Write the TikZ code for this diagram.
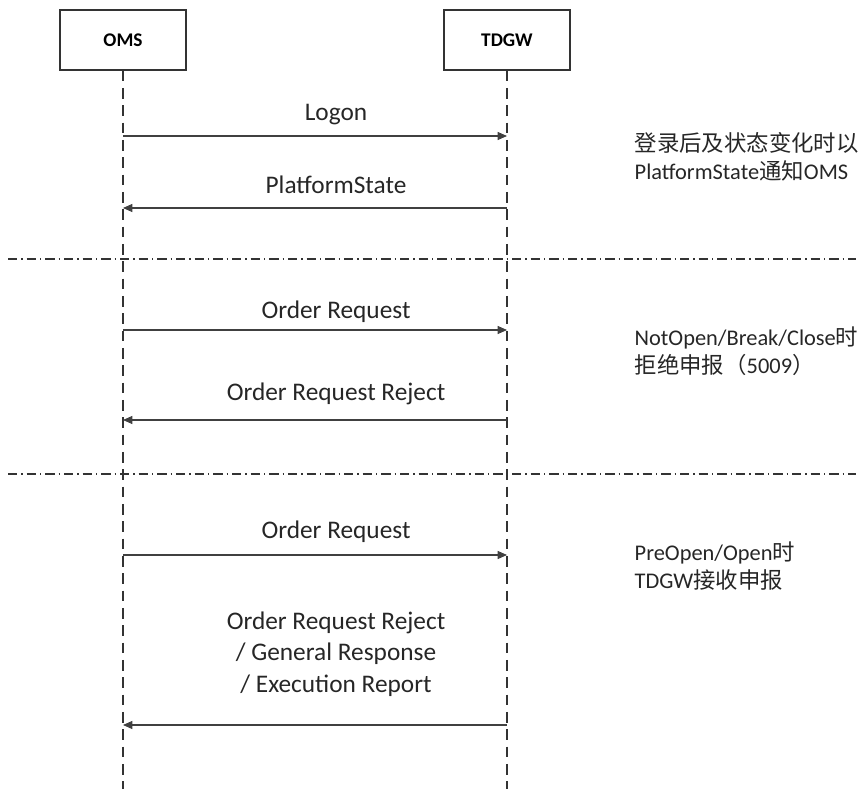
\documentclass[tikz,border=0pt]{standalone}
\usepackage{fontspec}
\setmainfont{Carlito}
\newfontfamily\cjk{Noto Sans CJK SC}
\usetikzlibrary{arrows.meta}

\begin{document}
\begin{tikzpicture}[x=0.75pt,y=-0.75pt,
  actor/.style={draw=black!80,line width=0.8pt,minimum width=94.5pt,minimum height=45pt,
    font=\fontsize{14.5}{16}\selectfont\bfseries},
  lifeline/.style={draw=black!80,line width=0.8pt,dash pattern=on 8pt off 5pt},
  sep/.style={draw=black!80,line width=0.8pt,dash pattern=on 7pt off 3pt on 1pt off 3pt},
  msg/.style={draw=black!75,line width=0.8pt,-{Triangle[length=7pt,width=6pt]}},
  label/.style={font=\fontsize{19}{23.5}\selectfont,align=center,text=black!85},
  note/.style={font=\fontsize{16.8}{21}\selectfont,align=left,anchor=west,text=black!85}]
  \useasboundingbox (0,0) rectangle (861,789);

  % participants
  \node[actor] (oms) at (123,40) {OMS};
  \node[actor] (tdgw) at (507,40) {TDGW};
  \coordinate (omsend) at (123,789);
  \coordinate (tdgwend) at (507,789);
  \draw[lifeline] (oms.south) -- (omsend);
  \draw[lifeline] (tdgw.south) -- (tdgwend);

  % phase separators
  \coordinate (s1a) at (8,259);
  \coordinate (s1b) at (856,259);
  \coordinate (s2a) at (8,474);
  \coordinate (s2b) at (856,474);
  \draw[sep] (s1a) -- (s1b);
  \draw[sep] (s2a) -- (s2b);

  % logon
  \coordinate (m1a) at (123,136);
  \coordinate (m1b) at (507,136);
  \draw[msg] (m1a) -- (m1b);
  \node[label] (logon) at (336,115) {Logon};
  \coordinate (m2a) at (507,208);
  \coordinate (m2b) at (123,208);
  \draw[msg] (m2a) -- (m2b);
  \node[label] (state) at (336,185) {PlatformState};
  \node[note] (n1) at (630,157) {{\cjk 登录后及状态变化时以}\\PlatformState{\cjk 通知}OMS};

  % closed phase
  \coordinate (m3a) at (123,330);
  \coordinate (m3b) at (507,330);
  \draw[msg] (m3a) -- (m3b);
  \node[label] (req1) at (336,312) {Order Request};
  \coordinate (m4a) at (507,420);
  \coordinate (m4b) at (123,420);
  \draw[msg] (m4a) -- (m4b);
  \node[label] (rej1) at (336,394) {Order Request Reject};
  \node[note] (n2) at (630,351) {NotOpen/Break/Close{\cjk 时}\\{\cjk 拒绝申报（}5009{\cjk ）}};

  % open phase
  \coordinate (m5a) at (123,555);
  \coordinate (m5b) at (507,555);
  \draw[msg] (m5a) -- (m5b);
  \node[label] (req2) at (336,532) {Order Request};
  \coordinate (m6a) at (507,725);
  \coordinate (m6b) at (123,725);
  \draw[msg] (m6a) -- (m6b);
  \node[label] (resp) at (336,654) {Order Request Reject\\/ General Response\\/ Execution Report};
  \node[note] (n3) at (630,566) {PreOpen/Open{\cjk 时}\\TDGW{\cjk 接收申报}};
\end{tikzpicture}
\end{document}
